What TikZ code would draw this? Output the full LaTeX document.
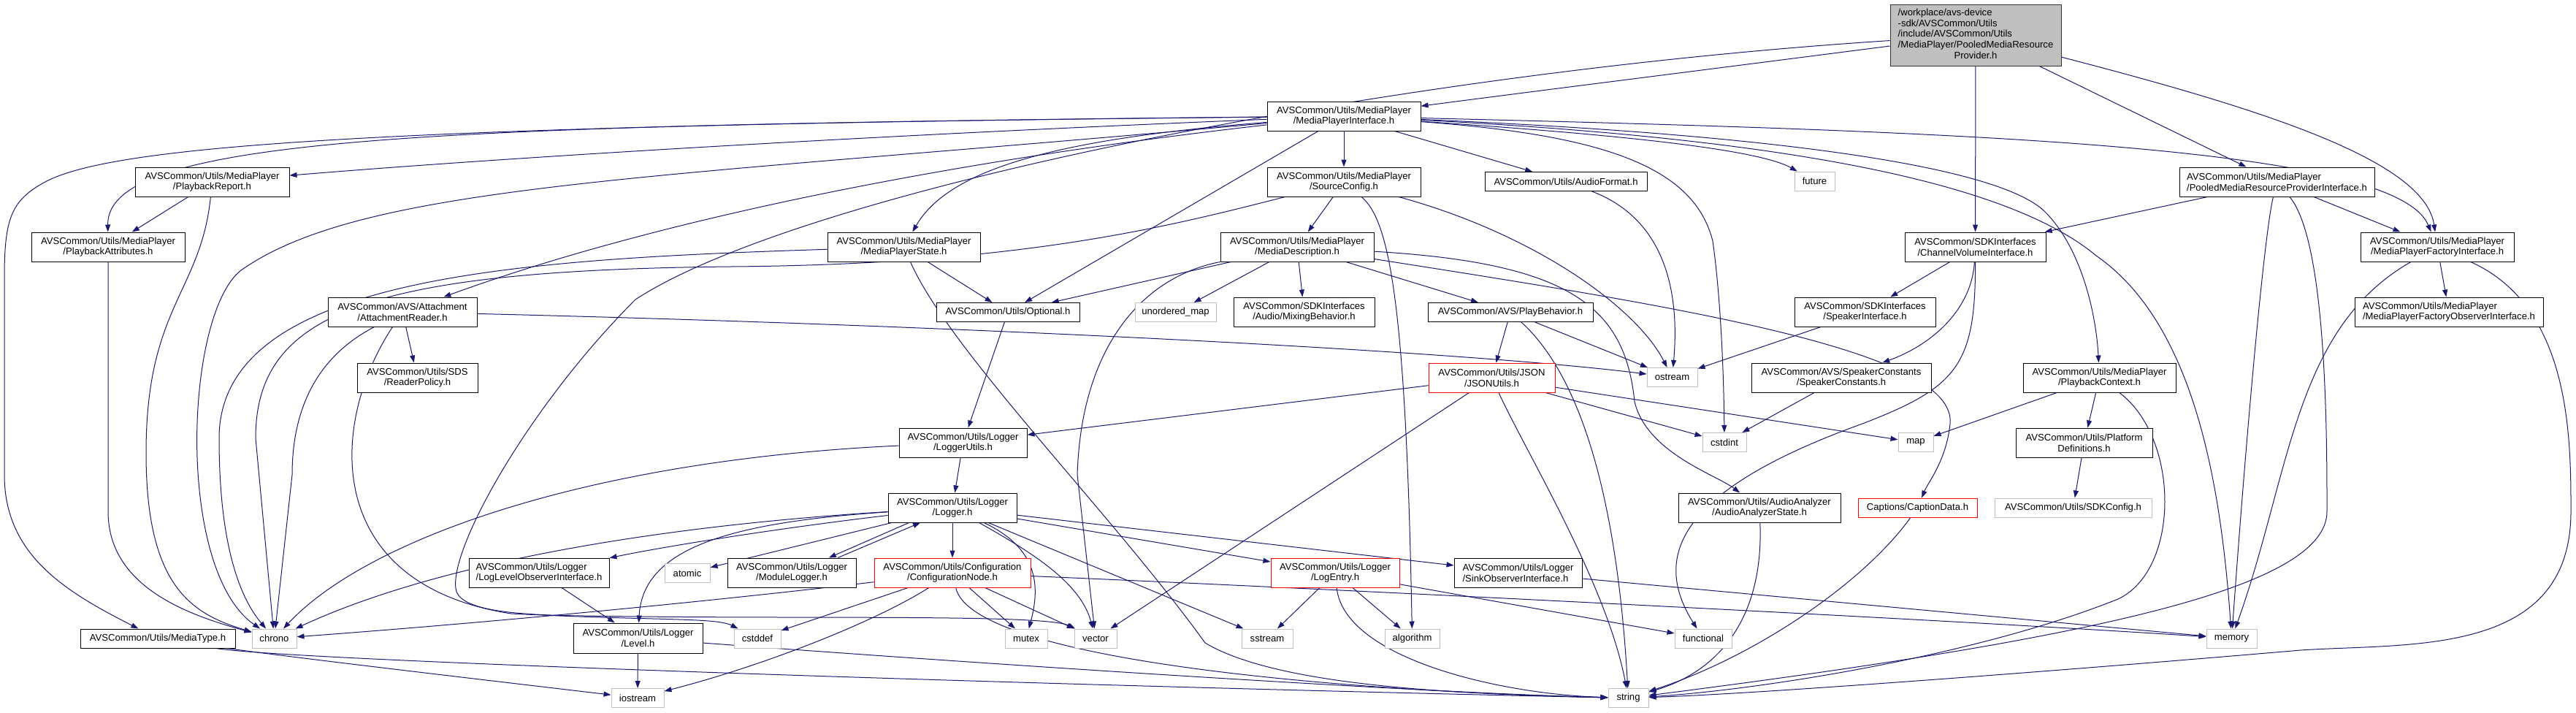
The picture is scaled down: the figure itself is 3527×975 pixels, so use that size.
\documentclass[tikz,border=0pt]{standalone}
\usepackage{fontspec}
\setmainfont{Liberation Sans}
\usetikzlibrary{arrows.meta,backgrounds}
\definecolor{edgeblue}{HTML}{191970}
\definecolor{sysgray}{HTML}{BFBFBF}
\tikzset{
  incl/.style={x=1pt,y=-1pt,>={Triangle[length=10pt,width=7pt]},
    every node/.style={font=\fontsize{13.1}{14.7}\selectfont,inner sep=2pt,line width=1pt}},
  hfile/.style={draw=black,fill=white,minimum height=40pt,align=center},
  hleft/.style={hfile,align=left},
  hone/.style={hfile,minimum height=26pt},
  sysh/.style={draw=sysgray,fill=white,minimum height=26pt},
  nodoc/.style={draw=red,fill=white,minimum height=40pt,align=center},
  rootfile/.style={draw=black!80,fill=sysgray,minimum height=84pt},
  dep/.style={->,draw=edgeblue,line width=1pt},
}

\begin{document}
\begin{tikzpicture}[incl]
  \useasboundingbox (0,0) rectangle (3527,975);

  \node[rootfile,minimum width=234pt] (root) at (2705,48) {\begin{tabular}{@{}l@{}}/workplace/avs-device\\-sdk/AVSCommon/Utils\\/include/AVSCommon/Utils\\/MediaPlayer/PooledMediaResource\\\multicolumn{1}{@{}c@{}}{Provider.h}\end{tabular}};

  \node[hfile,minimum width=210pt] (mpi) at (1840,159) {AVSCommon/Utils/MediaPlayer\\/MediaPlayerInterface.h};
  \node[hleft,minimum width=267pt] (prpi) at (3117.5,249) {AVSCommon/Utils/MediaPlayer\\/PooledMediaResourceProviderInterface.h};
  \node[hfile,minimum width=193pt] (sdkcv) at (2704.5,338) {AVSCommon/SDKInterfaces\\/ChannelVolumeInterface.h};
  \node[hfile,minimum width=210pt] (mpfi) at (3337,338) {AVSCommon/Utils/MediaPlayer\\/MediaPlayerFactoryInterface.h};
  \node[hfile,minimum width=211pt] (pr) at (290.5,249) {AVSCommon/Utils/MediaPlayer\\/PlaybackReport.h};
  \node[hfile,minimum width=210pt] (pa) at (148,338) {AVSCommon/Utils/MediaPlayer\\/PlaybackAttributes.h};
  \node[hfile,minimum width=210pt] (sc) at (1840,249) {AVSCommon/Utils/MediaPlayer\\/SourceConfig.h};
  \node[hone,minimum width=222pt] (af) at (2144,248.5) {AVSCommon/Utils/AudioFormat.h};
  \node[sysh,minimum width=55pt] (future) at (2484.5,248) {future};
  \node[hfile,minimum width=209pt] (mps) at (1237.5,338) {AVSCommon/Utils/MediaPlayer\\/MediaPlayerState.h};
  \node[hfile,minimum width=210pt] (md) at (1776,338) {AVSCommon/Utils/MediaPlayer\\/MediaDescription.h};
  \node[hfile,minimum width=204pt] (ar) at (551,427) {AVSCommon/AVS/Attachment\\/AttachmentReader.h};
  \node[hone,minimum width=196pt] (opt) at (1380,427.5) {AVSCommon/Utils/Optional.h};
  \node[sysh,minimum width=111pt] (umap) at (1609.5,427.5) {unordered\_map};
  \node[hfile,minimum width=193pt] (mb) at (1785.5,427) {AVSCommon/SDKInterfaces\\/Audio/MixingBehavior.h};
  \node[hone,minimum width=226pt] (pb) at (2068,427.5) {AVSCommon/AVS/PlayBehavior.h};
  \node[hfile,minimum width=193pt] (spi) at (2553.5,427) {AVSCommon/SDKInterfaces\\/SpeakerInterface.h};
  \node[hleft,minimum width=258pt] (mpfoi) at (3353,427) {AVSCommon/Utils/MediaPlayer\\/MediaPlayerFactoryObserverInterface.h};
  \node[hfile,minimum width=165pt] (rp) at (571.5,517) {AVSCommon/Utils/SDS\\/ReaderPolicy.h};
  \node[nodoc,minimum width=173pt] (json) at (2042.5,517) {AVSCommon/Utils/JSON\\/JSONUtils.h};
  \node[sysh,minimum width=69pt] (ostream) at (2289.5,516.5) {ostream};
  \node[hfile,minimum width=246pt] (spc) at (2521,517) {AVSCommon/AVS/SpeakerConstants\\/SpeakerConstants.h};
  \node[hfile,minimum width=209pt] (pbc) at (2874.5,517) {AVSCommon/Utils/MediaPlayer\\/PlaybackContext.h};
  \node[hfile,minimum width=175pt] (lu) at (1318.5,606) {AVSCommon/Utils/Logger\\/LoggerUtils.h};
  \node[sysh,minimum width=60pt] (cstdint) at (2361,605.5) {cstdint};
  \node[sysh,minimum width=48pt] (map) at (2623,605.5) {map};
  \node[hfile,minimum width=187pt] (pd) at (2853.5,606) {AVSCommon/Utils/Platform\\Definitions.h};
  \node[hfile,minimum width=176pt] (logger) at (1304,695) {AVSCommon/Utils/Logger\\/Logger.h};
  \node[hfile,minimum width=222pt] (aas) at (2409,695) {AVSCommon/Utils/AudioAnalyzer\\/AudioAnalyzerState.h};
  \node[nodoc,minimum width=163pt,minimum height=26pt] (cap) at (2625.5,695) {Captions/CaptionData.h};
  \node[sysh,minimum width=215pt] (sdkc) at (2838.5,695) {AVSCommon/Utils/SDKConfig.h};
  \node[hleft,minimum width=192pt] (llo) at (738,784) {AVSCommon/Utils/Logger\\/LogLevelObserverInterface.h};
  \node[sysh,minimum width=62pt] (atomic) at (941,784.5) {atomic};
  \node[hfile,minimum width=176pt] (ml) at (1084,784) {AVSCommon/Utils/Logger\\/ModuleLogger.h};
  \node[nodoc,minimum width=214pt] (cn) at (1304,784) {AVSCommon/Utils/Configuration\\/ConfigurationNode.h};
  \node[nodoc,minimum width=176pt] (le) at (1828,784) {AVSCommon/Utils/Logger\\/LogEntry.h};
  \node[hleft,minimum width=175pt] (soi) at (2078.5,784) {AVSCommon/Utils/Logger\\/SinkObserverInterface.h};
  \node[hone,minimum width=212pt] (mt) at (216,874) {AVSCommon/Utils/MediaType.h};
  \node[sysh,minimum width=61pt] (chrono) at (375.5,874) {chrono};
  \node[hfile,minimum width=177pt,minimum height=41pt] (level) at (873.5,873.5) {AVSCommon/Utils/Logger\\/Level.h};
  \node[sysh,minimum width=64pt] (cstddef) at (1037,874) {cstddef};
  \node[sysh,minimum width=58pt] (mutex) at (1405,874) {mutex};
  \node[sysh,minimum width=58pt] (vector) at (1500,874) {vector};
  \node[sysh,minimum width=70pt] (sstream) at (1735,874) {sstream};
  \node[sysh,minimum width=75pt] (algorithm) at (1933.5,874) {algorithm};
  \node[sysh,minimum width=78pt] (functional) at (2332,874) {functional};
  \node[sysh,minimum width=69pt] (memory) at (3055.5,874) {memory};
  \node[sysh,minimum width=72pt] (iostream) at (873,955.5) {iostream};
  \node[sysh,minimum width=55pt] (string) at (2229.5,955.5) {string};

  \begin{scope}[on background layer]
    % root
    \draw[dep] (root) .. controls (2300,100) and (2100,125) .. (mpi);
    \draw[dep] (root) .. controls (1900,100) and (1100,260) .. (870,410) .. controls (720,560) and (610,760) .. (625,810) .. controls (635,835) and (700,842) .. (800,843) .. controls (1100,848) and (1430,840) .. (vector);
    \draw[dep] (root) -- (sdkcv);
    \draw[dep] (root) -- (prpi);
    \draw[dep] (root) .. controls (3100,150) and (3320,220) .. (mpfi);
    % MediaPlayerInterface.h
    \draw[dep] (mpi) .. controls (1200,185) and (700,215) .. (pr);
    \draw[dep] (mpi) .. controls (600,172) and (146,185) .. (pa);
    \draw[dep] (mpi) .. controls (500,172) and (150,200) .. (60,250) .. controls (15,275) and (6,300) .. (6,380) -- (6,650) .. controls (6,760) and (90,810) .. (mt);
    \draw[dep] (mpi) .. controls (900,245) and (500,250) .. (330,370) .. controls (253,430) and (240,780) .. (chrono);
    \draw[dep] (mpi) .. controls (1300,220) and (900,300) .. (ar);
    \draw[dep] (mpi) .. controls (1450,190) and (1300,230) .. (mps);
    \draw[dep] (mpi) -- (opt);
    \draw[dep] (mpi) -- (sc);
    \draw[dep] (mpi) -- (af);
    \draw[dep] (mpi) .. controls (2150,180) and (2400,200) .. (future);
    \draw[dep] (mpi) .. controls (2200,185) and (2320,230) .. (2345,330) .. controls (2355,400) and (2360,500) .. (cstdint);
    \draw[dep] (mpi) .. controls (2700,180) and (3280,200) .. (mpfi);
    \draw[dep] (mpi) .. controls (2450,185) and (2740,230) .. (2800,290) .. controls (2850,340) and (2870,430) .. (pbc);
    \draw[dep] (mpi) .. controls (2450,190) and (2750,250) .. (2870,350) .. controls (3000,440) and (3040,650) .. (memory);
    % MediaPlayer headers
    \draw[dep] (pr) -- (pa);
    \draw[dep] (pr) .. controls (275,400) and (200,420) .. (200,620) .. controls (200,800) and (260,840) .. (chrono);
    \draw[dep] (pa) -- (148,700) .. controls (148,800) and (250,840) .. (chrono);
    \draw[dep] (sc) -- (md);
    \draw[dep] (sc) .. controls (1600,310) and (1400,362) .. (1000,365) .. controls (500,370) and (350,430) .. (350,600) -- (chrono);
    \draw[dep] (sc) .. controls (1900,300) and (1925,400) .. (algorithm);
    \draw[dep] (sc) .. controls (2100,320) and (2240,420) .. (ostream);
    \draw[dep] (af) .. controls (2280,300) and (2300,400) .. (ostream);
    \draw[dep] (mps) -- (opt);
    \draw[dep] (mps) .. controls (700,355) and (300,380) .. (300,600) .. controls (300,750) and (330,820) .. (chrono);
    \draw[dep] (mps) .. controls (1300,480) and (1520,700) .. (1650,880) .. controls (1750,940) and (2000,950) .. (string);
    \draw[dep] (md) -- (opt);
    \draw[dep] (md) -- (umap);
    \draw[dep] (md) -- (mb);
    \draw[dep] (md) -- (pb);
    \draw[dep] (md) .. controls (2150,360) and (2225,420) .. (2238,550) .. controls (2255,620) and (2350,650) .. (aas);
    \draw[dep] (md) .. controls (2300,420) and (2680,480) .. (2670,580) .. controls (2665,630) and (2640,660) .. (cap);
    \draw[dep] (md) .. controls (1560,380) and (1480,480) .. (1475,650) -- (vector);
    % AttachmentReader.h
    \draw[dep] (ar) -- (rp);
    \draw[dep] (ar) .. controls (470,470) and (400,520) .. (400,650) -- (chrono);
    \draw[dep] (ar) .. controls (450,580) and (440,800) .. (700,840) .. controls (900,850) and (980,845) .. (cstddef);
    \draw[dep] (ar) .. controls (1300,445) and (2000,480) .. (ostream);
    % Optional, PlayBehavior, JSON
    \draw[dep] (opt) -- (lu);
    \draw[dep] (pb) -- (json);
    \draw[dep] (pb) -- (ostream);
    \draw[dep] (pb) .. controls (2170,520) and (2215,700) .. (string);
    \draw[dep] (json) -- (lu);
    \draw[dep] (json) -- (vector);
    \draw[dep] (json) .. controls (2090,620) and (2200,800) .. (string);
    \draw[dep] (json) -- (cstdint);
    \draw[dep] (json) -- (map);
    % Logger
    \draw[dep] (lu) -- (logger);
    \draw[dep] (lu) .. controls (800,630) and (500,740) .. (chrono);
    \draw[dep] (logger) .. controls (900,720) and (600,770) .. (chrono);
    \draw[dep] (logger) -- (atomic);
    \draw[dep] (logger.199) -- (ml.22);
    \draw[dep] (ml.18) -- (logger.205);
    \draw[dep] (logger) -- (cn);
    \draw[dep] (logger) .. controls (1000,715) and (880,750) .. (level);
    \draw[dep] (logger) .. controls (1050,725) and (900,750) .. (llo);
    \draw[dep] (logger) .. controls (1420,750) and (1425,800) .. (mutex);
    \draw[dep] (logger) .. controls (1420,760) and (1480,800) .. (vector);
    \draw[dep] (logger) -- (sstream);
    \draw[dep] (logger) -- (le);
    \draw[dep] (logger) -- (soi);
    \draw[dep] (cn) .. controls (1000,820) and (700,850) .. (chrono);
    \draw[dep] (cn) -- (cstddef);
    \draw[dep] (cn) .. controls (1200,850) and (1050,910) .. (iostream);
    \draw[dep] (cn) -- (mutex);
    \draw[dep] (cn) -- (vector);
    \draw[dep] (cn) .. controls (1330,900) and (1800,945) .. (string);
    \draw[dep] (cn) .. controls (1800,805) and (2700,850) .. (memory);
    \draw[dep] (le) -- (sstream);
    \draw[dep] (le) -- (algorithm);
    \draw[dep] (le) -- (functional);
    \draw[dep] (le) .. controls (1840,900) and (2050,950) .. (string);
    \draw[dep] (soi) -- (memory);
    \draw[dep] (llo) -- (level);
    \draw[dep] (level) -- (iostream);
    \draw[dep] (level) .. controls (1500,920) and (2000,950) .. (string);
    \draw[dep] (mt) .. controls (400,900) and (700,935) .. (iostream);
    \draw[dep] (mt) .. controls (400,905) and (1500,940) .. (string);
    % right part
    \draw[dep] (prpi) -- (sdkcv);
    \draw[dep] (prpi) -- (mpfi);
    \draw[dep] (prpi) .. controls (3100,320) and (3075,600) .. (memory);
    \draw[dep] (prpi) .. controls (3186,330) and (3186,600) .. (3186,700) .. controls (3186,800) and (2900,870) .. (string);
    \draw[dep] (mpfi) -- (mpfoi);
    \draw[dep] (mpfi) .. controls (3140,450) and (3136,650) .. (memory);
    \draw[dep] (mpfi) .. controls (3520,420) and (3520,600) .. (3520,700) .. controls (3520,900) and (3300,880) .. (3150,890) .. controls (2800,920) and (2400,950) .. (string);
    \draw[dep] (sdkcv) -- (spi);
    \draw[dep] (sdkcv) .. controls (2700,420) and (2650,470) .. (spc);
    \draw[dep] (sdkcv) .. controls (2705,500) and (2680,530) .. (2550,580) .. controls (2300,670) and (2260,760) .. (functional);
    \draw[dep] (spi) -- (ostream);
    \draw[dep] (spc) -- (cstdint);
    \draw[dep] (pbc) -- (map);
    \draw[dep] (pbc) -- (pd);
    \draw[dep] (pbc) .. controls (2985,600) and (2985,780) .. (2900,820) .. controls (2700,900) and (2400,945) .. (string);
    \draw[dep] (pd) -- (sdkc);
    \draw[dep] (aas) .. controls (2415,850) and (2350,920) .. (string);
    \draw[dep] (cap) .. controls (2550,800) and (2400,900) .. (string);
  \end{scope}
\end{tikzpicture}
\end{document}
